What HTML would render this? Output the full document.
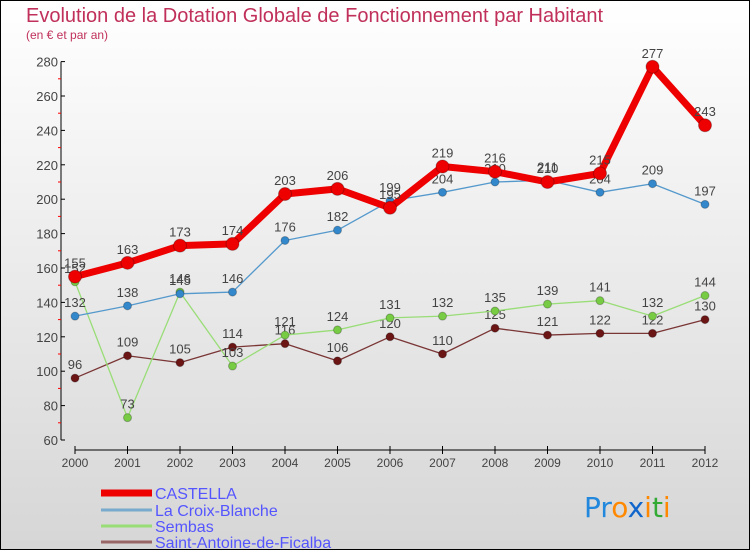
<!DOCTYPE html>
<html><head><meta charset="utf-8"><style>
body{margin:0}
#c{width:750px;height:550px;position:relative;box-sizing:border-box;border:1px solid #000;background:linear-gradient(#fff,#d6d6d6);font-family:"Liberation Sans",sans-serif;overflow:hidden}
</style></head><body>
<div id="c">
<svg id="s" width="748" height="548" xmlns="http://www.w3.org/2000/svg"></svg>
</div>
<script>
const years=[2000,2001,2002,2003,2004,2005,2006,2007,2008,2009,2010,2011,2012];
const castella=[155,163,173,174,203,206,195,219,216,210,215,277,243];
const croix=[132,138,145,146,176,182,199,204,210,211,204,209,197];
const sembas=[152,73,146,103,121,124,131,132,135,139,141,132,144];
const antoine=[96,109,105,114,116,106,120,110,125,121,122,122,130];
const yTicks=[60,80,100,120,140,160,180,200,220,240,260,280];
const NS="http://www.w3.org/2000/svg",s=document.getElementById('s');
const X=i=>74+i*52.5, Y=v=>439-(v-60)*1.72;
function el(t,a,p){const e=document.createElementNS(NS,t);for(const k in a)e.setAttribute(k,a[k]);(p||s).appendChild(e);return e;}
function tx(x,y,str,a){const e=el('text',Object.assign({x:x,y:y},a));e.textContent=str;return e;}
let t=tx(25,21,'Evolution de la Dotation Globale de Fonctionnement par Habitant',{fill:'#c0305a','font-size':20});

t=tx(25,38,'(en € et par an)',{fill:'#c0305a','font-size':12});

let a=el('line',{x1:60,y1:Y(280),x2:60,y2:Y(60),stroke:'#000'});

yTicks.forEach((v,i)=>{el('line',{x1:60,x2:64,y1:Y(v),y2:Y(v),stroke:'#000'});
 if(i<yTicks.length-1)el('line',{x1:57,x2:60,y1:Y(v+10),y2:Y(v+10),stroke:'#f00'});
 const l=tx(57,Y(v)+5,v,{fill:'#444','font-size':13,'text-anchor':'end'});
 });
a=el('line',{x1:X(0),y1:449,x2:X(12),y2:449,stroke:'#000'});

years.forEach((y,i)=>{el('line',{x1:X(i),x2:X(i),y1:445,y2:453,stroke:'#000'});
 const l=tx(X(i),466,y,{fill:'#444','font-size':12,'text-anchor':'middle'});
 });
function series(d,col,dot,w,r,name){
 const g=el('g',{});
 el('polyline',{points:d.map((v,i)=>X(i)+','+Y(v)).join(' '),fill:'none',stroke:col,'stroke-width':w,'stroke-linejoin':'round'},g);
 d.forEach((v,i)=>{const c=el('circle',{cx:X(i),cy:Y(v),r:r,fill:dot,stroke:'rgba(0,0,0,0.25)'},g);
  
  const l=tx(X(i),Y(v)-9,v,{fill:'#444','font-size':13,'text-anchor':'middle'},g);
  });
}
series(antoine,'#7a3535','#6b1515',1.3,4,'saint-antoine');
series(sembas,'#99dd77','#77cc44',1.3,4,'sembas');
series(croix,'#5599cc','#3388cc',1.3,4,'croix-blanche');
series(castella,'#ee0000','#ee0000',7,6.5,'castella');
[['CASTELLA','#ee0000',7],['La Croix-Blanche','#77aacc',3],['Sembas','#99dd77',3],['Saint-Antoine-de-Ficalba','#996666',3]].forEach((L,i)=>{
 const y=[492,509,525,541][i];
 const g=el('g',{});
 el('line',{x1:100,x2:151,y1:y,y2:y,stroke:L[1],'stroke-width':L[2]},g);
 tx(154,y+6,L[0],{fill:'#5555ff','font-size':16},g);});
const lg=el('text',{x:583,y:516,'font-size':28,'font-family':'"DejaVu Sans",sans-serif'});

[['Pr','#2288dd'],['o','#ff8800'],['x','#1166cc'],['i','#ff8800'],['t','#33aa33'],['i','#ff8800']].forEach(p=>{const ts=el('tspan',{fill:p[1]},lg);ts.textContent=p[0];});
</script>
</body></html>
